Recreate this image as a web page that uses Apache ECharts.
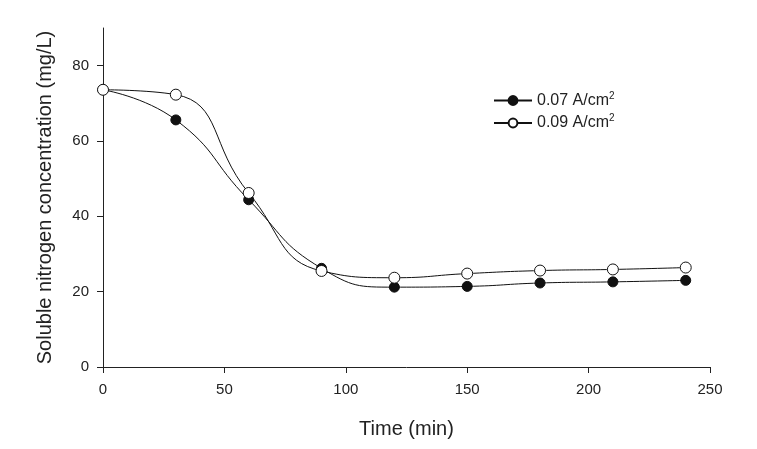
<!DOCTYPE html>
<html>
<head>
<meta charset="utf-8">
<script src="https://cdn.jsdelivr.net/npm/echarts@6/dist/echarts.min.js"></script>
<style>
  html, body { margin: 0; padding: 0; background: #fff; }
  #chart { width: 757px; height: 449px; }
</style>
</head>
<body>
<div id="chart"></div>
<script>
  // data
  var times = [0, 30, 60, 90, 120, 150, 180, 210, 240];
  var low = [73.6, 65.6, 44.4, 26.2, 21.2, 21.4, 22.3, 22.6, 23.0];   // 0.07 A/cm2
  var high = [73.6, 72.3, 46.2, 25.5, 23.7, 24.8, 25.6, 25.9, 26.4];  // 0.09 A/cm2
  var yTicks = [0, 20, 40, 60, 80];
  var xTicks = [0, 50, 100, 150, 200, 250];

  function pairs(xs, ys) {
    return xs.map(function (x, i) { return [x, ys[i]]; });
  }

  var font = 'Liberation Sans, Arial, sans-serif';
  var myChart = echarts.init(document.getElementById('chart'));
  myChart.setOption({
    animation: false,
    backgroundColor: '#fff',
    grid: { left: 103, right: 47, top: 28, bottom: 82 },
    legend: {
      left: 488,
      top: 86,
      orient: 'vertical',
      itemWidth: 38,
      itemHeight: 11,
      itemGap: 5,
      textStyle: {
        fontFamily: font, fontSize: 16, color: '#222',
        rich: {
          a: { fontFamily: font, fontSize: 16, color: '#222' },
          s: { fontFamily: font, fontSize: 10, color: '#222', verticalAlign: 'top', padding: [0, 0, 9, 0] }
        }
      },
      formatter: function (name) {
        return '{a|' + name.replace('2', '') + '}{s|2}';
      },
      data: ['0.07 A/cm2', '0.09 A/cm2']
    },
    xAxis: {
      type: 'value',
      min: 0,
      max: 250,
      interval: 50,
      name: 'Time (min)',
      nameLocation: 'middle',
      nameGap: 52,
      nameTextStyle: { fontFamily: font, fontSize: 20, color: '#222' },
      axisLine: { lineStyle: { color: '#222', width: 1 } },
      axisTick: { show: true, length: 6, lineStyle: { color: '#222' }, customValues: xTicks },
      axisLabel: { fontFamily: font, fontSize: 15, color: '#222', margin: 15, customValues: xTicks },
      splitLine: { show: false }
    },
    yAxis: {
      type: 'value',
      min: 0,
      max: 90,
      name: 'Soluble nitrogen concentration (mg/L)',
      nameLocation: 'middle',
      nameGap: 48,
      nameTextStyle: { fontFamily: font, fontSize: 20, color: '#222' },
      axisLine: { show: true, lineStyle: { color: '#222', width: 1 } },
      axisTick: { show: true, length: 6, lineStyle: { color: '#222' }, customValues: yTicks },
      axisLabel: { fontFamily: font, fontSize: 15, color: '#222', margin: 14, customValues: yTicks },
      splitLine: { show: false }
    },
    series: [
      {
        name: '0.07 A/cm2',
        type: 'line',
        smooth: 0.5,
        data: pairs(times, low),
        symbol: 'circle',
        symbolSize: 10,
        lineStyle: { color: '#111', width: 1 },
        itemStyle: { color: '#111', borderColor: '#111', borderWidth: 1 }
      },
      {
        name: '0.09 A/cm2',
        type: 'line',
        smooth: 0.5,
        data: pairs(times, high),
        symbol: 'circle',
        symbolSize: 11,
        lineStyle: { color: '#111', width: 1 },
        itemStyle: { color: '#fff', borderColor: '#111', borderWidth: 1 }
      }
    ]
  });
</script>
</body>
</html>
